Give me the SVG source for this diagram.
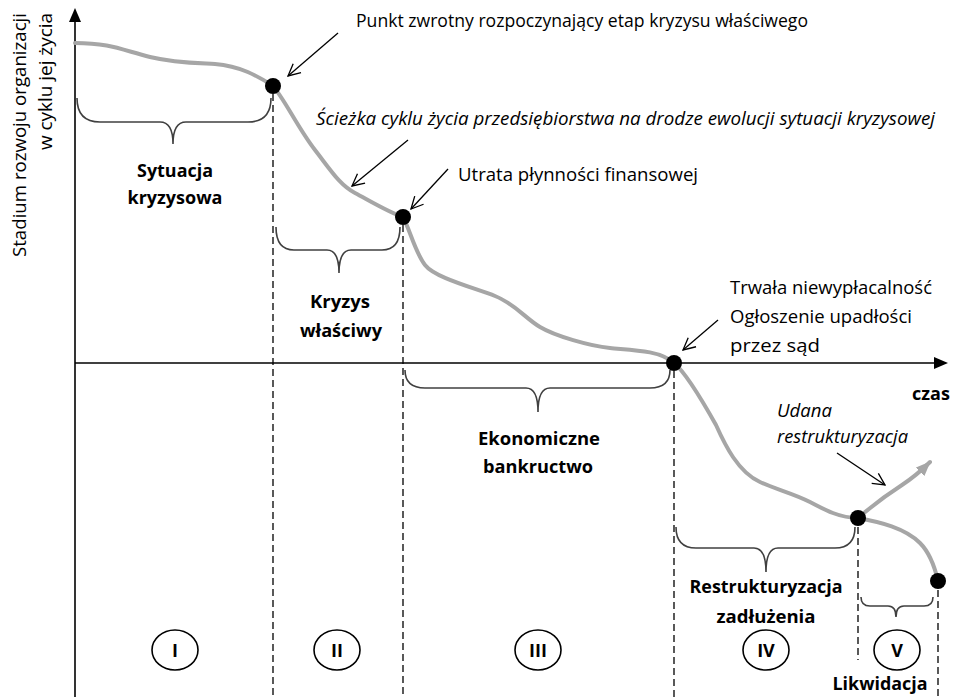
<svg xmlns="http://www.w3.org/2000/svg" width="954" height="697" viewBox="0 0 954 697">
<style>
.t{font-family:"Open Sans","Liberation Sans",sans-serif;font-size:18px;fill:#000}
.b{font-family:"Open Sans","Liberation Sans",sans-serif;font-size:18px;font-weight:bold;fill:#000;text-anchor:middle}
.i{font-style:italic}
.axis{stroke:#000;stroke-width:1.6;fill:none}
.path{stroke:#a6a6a6;stroke-width:4;fill:none;stroke-linecap:round}
.dash{stroke:#000;stroke-width:1.3;stroke-dasharray:7,4;fill:none}
.brace{stroke:#404040;stroke-width:1.6;fill:none}
.call{stroke:#000;stroke-width:1.3;fill:none}
.dot{fill:#000}
.ring{fill:none;stroke:#000;stroke-width:1.6}
</style>
<defs>
<marker id="open" viewBox="0 0 14 14" refX="13" refY="7" markerWidth="14" markerHeight="14" markerUnits="userSpaceOnUse" orient="auto">
<path d="M1,1 L13,7 L1,13" fill="none" stroke="#000" stroke-width="1.3"/>
</marker>
<marker id="grayhead" viewBox="0 0 16 14" refX="14" refY="7" markerWidth="16" markerHeight="14" markerUnits="userSpaceOnUse" orient="auto">
<path d="M0,1 L15,7 L0,13 Z" fill="#a6a6a6"/>
</marker>
</defs>

<g id="axes">
<line class="axis" x1="75" y1="697" x2="75" y2="20"/>
<polygon points="75,8 69,22 81,22" fill="#000"/>
<line class="axis" x1="75" y1="363" x2="936" y2="363"/>
<polygon points="948,363 934,357 934,369" fill="#000"/>
<text class="t" transform="translate(26,13) rotate(-90)" text-anchor="end" textLength="244" lengthAdjust="spacingAndGlyphs">Stadium rozwoju organizacji</text>
<text class="t" transform="translate(52,13) rotate(-90)" text-anchor="end" textLength="137" lengthAdjust="spacingAndGlyphs">w cyklu jej życia</text>
<text class="b" x="931" y="400">czas</text>
</g>

<g id="dividers">
<line class="dash" x1="273" y1="94" x2="273" y2="697"/>
<line class="dash" x1="403" y1="225" x2="403" y2="697"/>
<line class="dash" x1="674" y1="371" x2="674" y2="697"/>
<line class="dash" x1="858" y1="527" x2="858" y2="660"/>
<line class="dash" x1="938" y1="590" x2="938" y2="697"/>
</g>

<g id="connectors">
<path class="path" d="M75,43 C110,43 122,50 150,57 C175,63 195,63 215,64 C240,66 258,76 273,86"/>
<path class="path" d="M273,86 C285,100 298,128 315,150 C332,172 340,185 355,193 C370,201 390,213 403,217"/>
<path class="path" d="M403,217 C410,230 415,252 425,265 C435,278 475,288 495,296 C515,304 525,318 540,327 C555,336 590,346 610,348 C630,350 660,350 674,363"/>
<path class="path" d="M674,363 C685,372 702,400 716,425 C725,445 738,472 760,482 C775,489 795,494 810,502 C825,510 840,518 858,518"/>
<path class="path" d="M858,518 C880,522 905,528 920,543 C930,553 935,568 938,581"/>
<path class="path" d="M858,518 C872,506 888,494 902,485 C914,477 922,470 930,462" marker-end="url(#grayhead)"/>
<line class="call" x1="338" y1="33" x2="288" y2="76" marker-end="url(#open)"/>
<line class="call" x1="408" y1="140" x2="352" y2="186" marker-end="url(#open)"/>
<line class="call" x1="448" y1="169" x2="411" y2="209" marker-end="url(#open)"/>
<line class="call" x1="718" y1="320" x2="683" y2="350" marker-end="url(#open)"/>
<line class="call" x1="837" y1="453" x2="885" y2="485" marker-end="url(#open)"/>
</g>

<g id="point-turning">
<circle class="dot" cx="273" cy="86" r="8"/>
<text class="t" x="356" y="27" textLength="452" lengthAdjust="spacingAndGlyphs">Punkt zwrotny rozpoczynający etap kryzysu właściwego</text>
</g>
<g id="path-label">
<text class="t i" x="316" y="125" textLength="619" lengthAdjust="spacingAndGlyphs">Ścieżka cyklu życia przedsiębiorstwa na drodze ewolucji sytuacji kryzysowej</text>
</g>
<g id="point-liquidity">
<circle class="dot" cx="403" cy="217" r="8"/>
<text class="t" x="458" y="181" textLength="240" lengthAdjust="spacingAndGlyphs">Utrata płynności finansowej</text>
</g>
<g id="point-insolvency">
<circle class="dot" cx="674" cy="363" r="8"/>
<text class="t" x="730" y="294" textLength="202" lengthAdjust="spacingAndGlyphs">Trwała niewypłacalność</text>
<text class="t" x="730" y="323" textLength="182" lengthAdjust="spacingAndGlyphs">Ogłoszenie upadłości</text>
<text class="t" x="730" y="352" textLength="90" lengthAdjust="spacingAndGlyphs">przez sąd</text>
</g>
<g id="point-restructuring">
<circle class="dot" cx="858" cy="518" r="8"/>
<text class="t i" x="777" y="417" textLength="55" lengthAdjust="spacingAndGlyphs">Udana</text>
<text class="t i" x="777" y="443" textLength="131" lengthAdjust="spacingAndGlyphs">restrukturyzacja</text>
</g>
<g id="point-liquidation">
<circle class="dot" cx="938" cy="581" r="8"/>
</g>

<g id="stage-I">
<path class="brace" d="M77,98 Q77,122 100,122 L160,122 Q173,122 173,144 Q173,122 186,122 L248,122 Q271,122 271,98"/>
<text class="b" x="175" y="177" textLength="76" lengthAdjust="spacingAndGlyphs">Sytuacja</text>
<text class="b" x="175" y="204" textLength="95" lengthAdjust="spacingAndGlyphs">kryzysowa</text>
<ellipse class="ring" cx="175" cy="650" rx="23" ry="20"/>
<text class="b" x="175" y="657">I</text>
</g>
<g id="stage-II">
<path class="brace" d="M276,227 Q276,250 294,250 L327,250 Q339,250 339,273 Q339,250 351,250 L382,250 Q400,250 400,227"/>
<text class="b" x="340" y="308" textLength="60" lengthAdjust="spacingAndGlyphs">Kryzys</text>
<text class="b" x="341" y="337" textLength="82" lengthAdjust="spacingAndGlyphs">właściwy</text>
<ellipse class="ring" cx="337" cy="650" rx="23" ry="20"/>
<text class="b" x="337" y="657">II</text>
</g>
<g id="stage-III">
<path class="brace" d="M405,370 Q405,388 425,388 L526,388 Q538,388 538,412 Q538,388 550,388 L650,388 Q670,388 670,370"/>
<text class="b" x="539" y="445" textLength="122" lengthAdjust="spacingAndGlyphs">Ekonomiczne</text>
<text class="b" x="538" y="473" textLength="110" lengthAdjust="spacingAndGlyphs">bankructwo</text>
<ellipse class="ring" cx="538" cy="650" rx="23" ry="20"/>
<text class="b" x="538" y="657">III</text>
</g>
<g id="stage-IV">
<path class="brace" d="M676,527 Q676,548 696,548 L754,548 Q766,548 766,572 Q766,548 778,548 L835,548 Q855,548 855,527"/>
<text class="b" x="766" y="593" textLength="153" lengthAdjust="spacingAndGlyphs">Restrukturyzacja</text>
<text class="b" x="766" y="623" textLength="99" lengthAdjust="spacingAndGlyphs">zadłużenia</text>
<ellipse class="ring" cx="766" cy="650" rx="23" ry="20"/>
<text class="b" x="766" y="657">IV</text>
</g>
<g id="stage-V">
<path class="brace" d="M861,597 Q861,606 870,606 L888,606 Q896,606 896,617 Q896,606 904,606 L924,606 Q933,606 933,597"/>
<ellipse class="ring" cx="897" cy="650" rx="23" ry="20"/>
<text class="b" x="897" y="657">V</text>
<text class="b" x="880" y="690" textLength="95" lengthAdjust="spacingAndGlyphs">Likwidacja</text>
</g>
</svg>
